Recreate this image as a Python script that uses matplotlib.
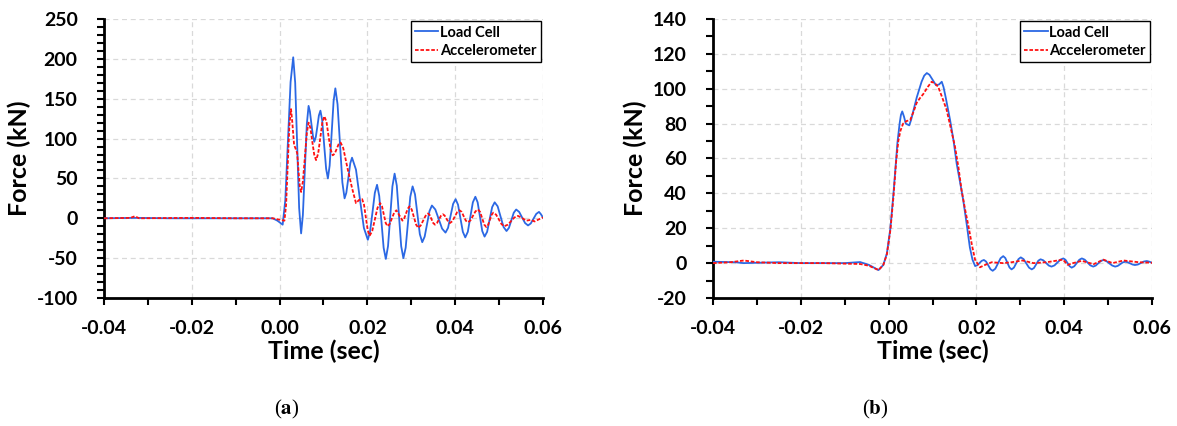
import matplotlib.pyplot as plt
from matplotlib.ticker import MultipleLocator

plt.rcParams.update({'font.family': 'Lato', 'font.weight': 'bold',
                     'mathtext.fontset': 'stix', 'axes.unicode_minus': False})

# (a) impact force: load cell
t_lc_a = [-0.040, -0.033, -0.025, -0.015, -0.005, -0.0016, -0.0005, 0.0007,
          0.0013, 0.0019, 0.0025, 0.0031, 0.00355, 0.0040, 0.00445, 0.0049,
          0.0053, 0.00575, 0.0062, 0.0066, 0.0069, 0.00725, 0.0076, 0.0079,
          0.00825, 0.0086, 0.00895, 0.0093, 0.0097, 0.01015, 0.0106, 0.0110,
          0.0114, 0.01185, 0.0123, 0.0127, 0.0132, 0.01375, 0.0143, 0.0148,
          0.0152, 0.01565, 0.0161, 0.0165, 0.0174, 0.0183, 0.0192, 0.0201,
          0.0206, 0.02115, 0.0217, 0.0222, 0.0227, 0.0232, 0.0237, 0.0242,
          0.0247, 0.0252, 0.0257, 0.0262, 0.0267, 0.0272, 0.0277, 0.0282,
          0.02872, 0.02925, 0.02977, 0.0303, 0.03085, 0.0314, 0.03195, 0.0325,
          0.03305, 0.0336, 0.03415, 0.0347, 0.03548, 0.03625, 0.03702, 0.0378,
          0.03838, 0.03895, 0.03953, 0.0401, 0.04065, 0.0412, 0.04175, 0.0423,
          0.04288, 0.04345, 0.04403, 0.0446, 0.04512, 0.04565, 0.04617, 0.0467,
          0.04728, 0.04785, 0.04843, 0.0490, 0.04968, 0.05035, 0.05103, 0.0517,
          0.05225, 0.0528, 0.05335, 0.0539, 0.05458, 0.05525, 0.05593, 0.0566,
          0.05722, 0.05785, 0.05848, 0.0591, 0.05955, 0.0600]
f_lc_a = [0, 0.5, 0, 0, 0, 0, -3, -8,
          23, 97, 171, 202, 170, 92, 13, -19,
          4, 61, 118, 141, 134, 118, 103, 96,
          102, 115, 129, 135, 123, 92, 62, 50,
          66, 106, 147, 163, 143, 94, 45, 25,
          32, 50, 69, 76, 61, 24, -12, -27,
          -17, 7, 32, 42, 28, -4, -37, -51,
          -35, 2, 40, 56, 41, 3, -35, -50,
          -37, -5, 27, 40, 30, 5, -20, -30,
          -23, -7, 9, 16, 11, -1, -13, -18,
          -12, 3, 18, 24, 17, 0, -17, -24,
          -17, 1.5, 20, 27, 20, 2, -16, -23,
          -17, -1.5, 14, 20, 15, 2, -11, -16,
          -12, -2.5, 7, 11, 8, 1, -6, -9,
          -6.5, -0.5, 5.5, 8, 5, 1]

# (a) impact force: accelerometer
t_acc_a = [-0.040, -0.034, -0.033, -0.032, -0.020, -0.010, -0.0016, 0.0011,
           0.00148, 0.00185, 0.00223, 0.0026, 0.0029, 0.0033, 0.0036, 0.0040,
           0.0043, 0.0046, 0.0049, 0.0053, 0.00575, 0.0062, 0.0066, 0.00703,
           0.00745, 0.00788, 0.0083, 0.00878, 0.00925, 0.00973, 0.0102, 0.01068,
           0.01115, 0.01163, 0.0121, 0.01255, 0.0130, 0.01345, 0.0139, 0.0145,
           0.0155, 0.0165, 0.0174, 0.0181, 0.0188, 0.01923, 0.01965, 0.02008,
           0.0205, 0.0211, 0.0217, 0.0223, 0.0229, 0.02333, 0.02375, 0.02418,
           0.0246, 0.0251, 0.0256, 0.0261, 0.0266, 0.0273, 0.0280, 0.0284,
           0.0288, 0.0292, 0.0296, 0.0301, 0.0306, 0.0311, 0.0316, 0.03215,
           0.0327, 0.03325, 0.0338, 0.0342, 0.0346, 0.0350, 0.0354, 0.03585,
           0.0363, 0.03675, 0.0372, 0.0376, 0.0380, 0.0384, 0.0388, 0.03935,
           0.0399, 0.04045, 0.0410, 0.04148, 0.04195, 0.04243, 0.0429, 0.04348,
           0.04405, 0.04463, 0.0452, 0.04568, 0.04615, 0.04663, 0.0471, 0.0475,
           0.0479, 0.0483, 0.0487, 0.04933, 0.04995, 0.05058, 0.0512, 0.0520,
           0.05275, 0.0535, 0.0543, 0.0552, 0.0562, 0.0572, 0.0581, 0.0590,
           0.0600]
f_acc_a = [0, 0.5, 2.5, 0, 0.5, 0, 0, -3,
           17, 67, 117, 137, 120, 92, 88, 82,
           60, 40, 33, 46, 76, 107, 120, 113,
           96, 80, 73, 81, 100, 120, 128, 121,
           103, 86, 79, 81, 87, 93, 95, 88,
           62, 38, 19, 23, 24, 17, 1, -15,
           -22, -16, -1.5, 13, 19, 15, 4.5, -6,
           -10, -7, 0, 7, 10, 3.5, -3, 0,
           6, 12, 15, 11, 1.5, -8, -12, -9,
           -3, 3, 6, 4, -1, -6, -8, -6,
           -1.5, 3, 5, 3.4, -0.5, -4, -6, -3.7,
           2, 7.7, 10, 8, 2.5, -3, -5, -2.7,
           3, 8.7, 11, 8, 0, -8, -11, -8.4,
           -2, 4.4, 7, 4.5, -1.5, -7.5, -10, -8,
           -3.5, 1, 3, 0.5, -3, -2, -4, -1.5,
           1]

# (b) impact force: load cell
t_lc_b = [-0.040, -0.035, -0.033, -0.025, -0.020, -0.010, -0.0065, -0.0045,
          -0.0023, -0.0012, -0.0004, 0.0004, 0.0011, 0.0016, 0.0020, 0.0025,
          0.0028, 0.0031, 0.0035, 0.0039, 0.0043, 0.0047, 0.0051, 0.0055,
          0.0064, 0.0075, 0.0081, 0.0087, 0.0093, 0.0098, 0.0108, 0.0115,
          0.0121, 0.0125, 0.0130, 0.0140, 0.0148, 0.0155, 0.0163, 0.0170,
          0.0178, 0.0185, 0.0191, 0.0197, 0.0202, 0.0207, 0.0212, 0.0217,
          0.0222, 0.0227, 0.0232, 0.0237, 0.0243, 0.0249, 0.0255, 0.0261,
          0.02658, 0.02705, 0.02753, 0.0280, 0.02853, 0.02905, 0.02958, 0.0301,
          0.03073, 0.03135, 0.03198, 0.0326, 0.0331, 0.0336, 0.0341, 0.0346,
          0.03523, 0.03585, 0.03648, 0.0371, 0.03778, 0.03845, 0.03913, 0.0398,
          0.04028, 0.04075, 0.04123, 0.0417, 0.04228, 0.04285, 0.04343, 0.0440,
          0.04465, 0.0453, 0.04595, 0.0466, 0.04718, 0.04775, 0.04833, 0.0489,
          0.04958, 0.05025, 0.05093, 0.0516, 0.05218, 0.05275, 0.05333, 0.0539,
          0.05445, 0.0550, 0.05555, 0.0561, 0.05678, 0.05745, 0.05813, 0.0588,
          0.0594, 0.0600]
f_lc_b = [0.8, 0.5, 0, 0.5, 0, 0, 0.6, -1,
          -4, -1, 5.6, 20, 40, 56, 69, 80,
          85, 87, 84, 80, 79.5, 79, 82, 86,
          95, 104, 107.5, 109, 108, 106, 102, 102.5,
          104, 101, 95, 82, 70, 57, 46, 36,
          22, 9, 2, -1.7, -1.2, 0.05, 1.3, 1.8,
          0.9, -1.3, -3.5, -4.4, -3.2, -0.2, 2.8, 4,
          2.9, 0.2, -2.5, -3.6, -2.6, -0.15, 2.3, 3.3,
          2.3, -0.15, -2.6, -3.6, -2.8, -0.7, 1.4, 2.2,
          1.6, 0.1, -1.4, -2, -1.3, 0.35, 2, 2.7,
          1.9, 0.05, -1.8, -2.6, -1.8, 0.05, 1.9, 2.7,
          2, 0.35, -1.3, -2, -1.4, -0.1, 1.2, 1.8,
          1.2, -0.1, -1.4, -2, -1.6, -0.6, 0.4, 0.8,
          0.5, -0.15, -0.8, -1.1, -0.8, 0.05, 0.9, 1.2,
          0.8, 0.2]

# (b) impact force: accelerometer
t_acc_b = [-0.040, -0.036, -0.033, -0.030, -0.025, -0.015, -0.0065, -0.0045,
           -0.0023, -0.0012, -0.0004, 0.0004, 0.0011, 0.0017, 0.0022, 0.0027,
           0.0033, 0.0041, 0.0049, 0.0057, 0.0064, 0.0071, 0.0079, 0.0089,
           0.0098, 0.0106, 0.0113, 0.0122, 0.0132, 0.0141, 0.0151, 0.0159,
           0.0166, 0.0174, 0.0182, 0.0190, 0.0197, 0.0208, 0.0220, 0.0235,
           0.0260, 0.0280, 0.0305, 0.0330, 0.0360, 0.0397, 0.0408, 0.0420,
           0.0440, 0.0467, 0.0489, 0.0510, 0.0535, 0.0570, 0.0600]
f_acc_b = [0, 0.5, 1.5, 0.5, 0, 0, -0.5, -1.5,
           -4, -1, 5, 19, 38, 58, 70, 76,
           80, 81.5, 82, 87, 92, 94.5, 97, 101,
           104, 103, 101, 95, 88, 78, 67, 55,
           42, 31, 21, 10, 1.8, -2.4, -1, 0.5,
           0, 0.5, 1.5, 0, 0.5, 2, -1, 0,
           1.3, -0.6, 2, 0, 1.5, 0.5, 0.2]

blue = '#2b68e4'
red = '#ff1010'

fig = plt.figure(figsize=(11.77, 4.26), dpi=100)
ax_a = fig.add_axes([0.0884, 0.3005, 0.3729, 0.6549])
ax_b = fig.add_axes([0.6058, 0.3005, 0.3730, 0.6549])

panels = [(ax_a, t_lc_a, f_lc_a, t_acc_a, f_acc_a, (-100, 250), 50, 10),
          (ax_b, t_lc_b, f_lc_b, t_acc_b, f_acc_b, (-20, 140), 20, 10)]

for ax, t1, f1, t2, f2, ylim, ymaj, ymin in panels:
    ax.plot(t1, f1, color=blue, lw=1.3, label='Load Cell', zorder=3)
    ax.plot(t2, f2, color=red, lw=1.3, ls=(0, (2, 1)), label='Accelerometer', zorder=4)
    ax.set_xlim(-0.04, 0.06)
    ax.set_ylim(*ylim)
    ax.xaxis.set_major_locator(MultipleLocator(0.02))
    ax.xaxis.set_minor_locator(MultipleLocator(0.01))
    ax.yaxis.set_major_locator(MultipleLocator(ymaj))
    ax.yaxis.set_minor_locator(MultipleLocator(ymin))
    ax.xaxis.set_major_formatter(lambda v, p: f'{v:.2f}')
    ax.tick_params(which='both', direction='out', length=5, width=1.5,
                   labelsize=14)
    ax.tick_params(axis='y', pad=14)
    ax.tick_params(axis='x', pad=11)
    ax.grid(True, which='major', color='#d9d9d9', ls=(0, (4, 3)), lw=0.9)
    for s in ('top', 'right'):
        ax.spines[s].set_visible(False)
    for s in ('left', 'bottom'):
        ax.spines[s].set_linewidth(2)
    ax.set_xlabel('Time (sec)', fontsize=18, fontweight='bold', labelpad=2)
    ax.set_ylabel('Force (kN)', fontsize=18, fontweight='bold', labelpad=4)
    leg = ax.legend(loc='upper right', fontsize=10.5, handlelength=1.6,
                    handletextpad=0.1, borderaxespad=0.15, fancybox=False,
                    framealpha=1, borderpad=0.3, labelspacing=0.3)
    leg.get_frame().set_edgecolor('black')
    leg.get_frame().set_linewidth(1)
    for txt in leg.get_texts():
        txt.set_fontweight('bold')

fig.text(0.244, 0.038, r'($\mathbf{a}$)', family='Liberation Serif',
         fontweight='normal', fontsize=15, ha='center', va='center')
fig.text(0.744, 0.038, r'($\mathbf{b}$)', family='Liberation Serif',
         fontweight='normal', fontsize=15, ha='center', va='center')

fig.savefig('out.png', dpi=100)
